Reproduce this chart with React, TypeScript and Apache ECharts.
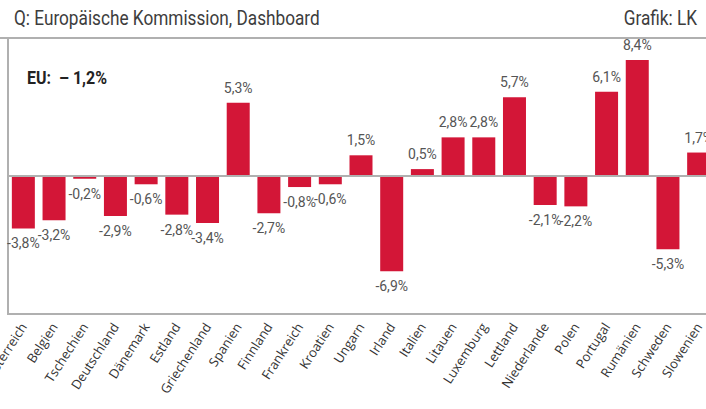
import React, { useEffect, useRef } from "react";
import * as echarts from "echarts";

const categories = [
  "Österreich", "Belgien", "Tschechien", "Deutschland", "Dänemark", "Estland",
  "Griechenland", "Spanien", "Finnland", "Frankreich", "Kroatien", "Ungarn",
  "Irland", "Italien", "Litauen", "Luxemburg", "Lettland", "Niederlande",
  "Polen", "Portugal", "Rumänien", "Schweden", "Slowenien",
];
const values = [
  -3.8, -3.2, -0.2, -2.9, -0.6, -2.8, -3.4, 5.3, -2.7, -0.8, -0.6, 1.5,
  -6.9, 0.5, 2.8, 2.8, 5.7, -2.1, -2.2, 6.1, 8.4, -5.3, 1.7,
];
const sourceText = "Q: Europäische Kommission, Dashboard";
const creditText = "Grafik: LK";
const euText = "EU:  – 1,2%";

const FONT = "Roboto, sans-serif";
const RED = "#d31637";
const GRAY = "#b0b0b0";

function fitScale(text: string, font: string, target: number): number {
  const c = document.createElement("canvas").getContext("2d");
  if (!c) return 1;
  c.font = font;
  const w = c.measureText(text).width;
  return w > 0 ? target / w : 1;
}

export default function App() {
  const ref = useRef<HTMLDivElement>(null);
  useEffect(() => {
    const chart = echarts.init(ref.current!, null, { renderer: "svg" });
    const fmt = (v: number) => v.toFixed(1).replace(".", ",") + "%";
    const headFont = `21px ${FONT}`;
    const euFont = `bold 18px ${FONT}`;
    const sHead = fitScale(sourceText, headFont, 306);
    const sEu = fitScale(euText, euFont, 80);
    chart.setOption({
      animation: false,
      grid: {
        left: 8,
        right: -8,
        top: 38,
        bottom: 95,
        containLabel: false,
        outerBoundsMode: "none",
      },
      xAxis: {
        type: "category",
        data: categories,
        axisLine: { show: true, onZero: false, lineStyle: { color: GRAY, width: 2 } },
        axisTick: { show: false },
        axisLabel: {
          rotate: 57,
          margin: 10,
          interval: 0,
          fontFamily: '"Open Sans", sans-serif',
          fontSize: 13,
          color: "#333",
        },
      },
      yAxis: {
        type: "value",
        min: -10,
        max: 10,
        show: false,
        splitLine: { show: false },
      },
      series: [
        {
          type: "bar",
          data: values.map((v) => ({
            value: v,
            label: { position: v >= 0 ? "top" : "bottom" },
          })),
          barWidth: 23,
          itemStyle: { color: RED },
          label: {
            show: true,
            distance: 8,
            formatter: (p: any) => fmt(p.value),
            fontFamily: FONT,
            fontSize: 14,
            color: "#555",
          },
          markLine: {
            silent: true,
            symbol: "none",
            label: { show: false },
            lineStyle: { color: GRAY, width: 2, type: "solid" },
            data: [{ yAxis: 0 }],
          },
          z: 3,
        },
      ],
      graphic: [
        {
          type: "text",
          x: 14,
          y: 7,
          scaleX: sHead,
          style: { text: sourceText, font: headFont, fill: "#3d3d3d", textVerticalAlign: "top" },
        },
        {
          type: "text",
          x: 697,
          y: 7,
          scaleX: sHead,
          style: {
            text: creditText,
            font: headFont,
            fill: "#3d3d3d",
            textAlign: "right",
            textVerticalAlign: "top",
          },
        },
        {
          type: "line",
          shape: { x1: 0, y1: 38, x2: 706, y2: 38 },
          style: { stroke: GRAY, lineWidth: 2 },
        },
        {
          type: "line",
          shape: { x1: 8, y1: 38, x2: 8, y2: 315 },
          style: { stroke: GRAY, lineWidth: 2 },
        },
        {
          type: "text",
          x: 27,
          y: 69,
          scaleX: sEu,
          style: { text: euText, font: euFont, fill: "#222", textVerticalAlign: "top" },
        },
      ],
    });
    return () => chart.dispose();
  }, []);
  return (
    <div
      ref={ref}
      style={{ position: "fixed", left: 0, top: 0, width: 706, height: 409, background: "#fff" }}
    />
  );
}
